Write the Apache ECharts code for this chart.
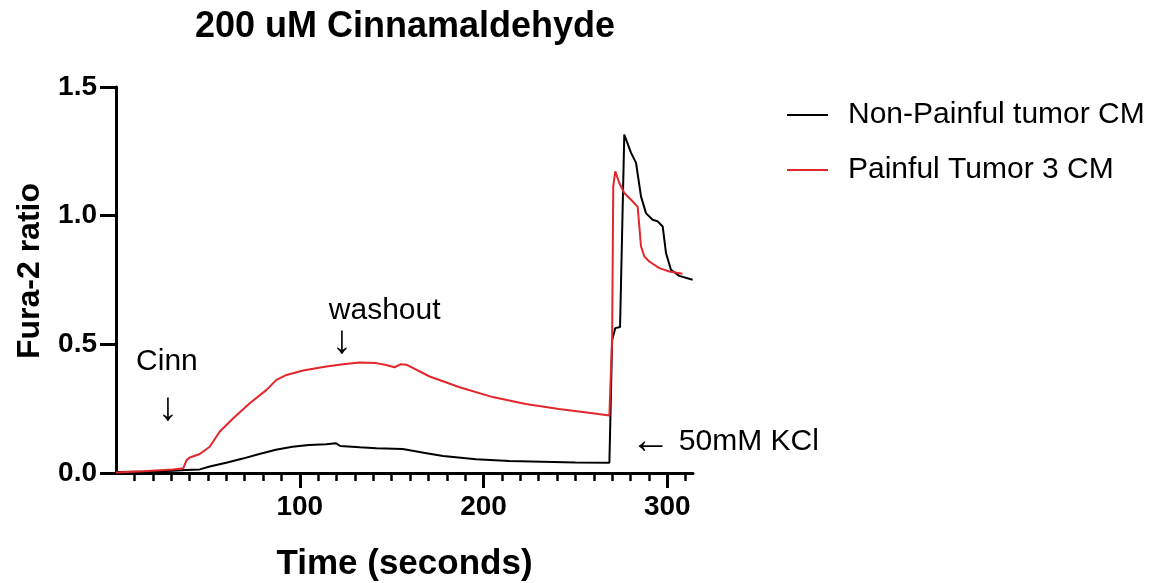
<!DOCTYPE html>
<html style="height: 100%">
<head>
  <meta charset="utf-8">
  <title>200 uM Cinnamaldehyde</title>
</head>
<body style="height: 100%; margin: 0; background: #fff">
<div id="container" style="width: 1155px; height: 583px;"></div>
<script type="text/javascript" src="https://cdn.jsdelivr.net/npm/echarts@6/dist/echarts.min.js"></script>
<script type="text/javascript">
  // values
  var blackName = 'Non-Painful tumor CM';
  var blackT = [0, 20, 31, 38, 45.6, 51, 60, 69, 78, 87, 96, 105, 114.5, 119.6, 122, 132.6, 141.7, 156, 169, 178, 196, 214, 232, 250, 268.5, 269.4, 270.0, 271.7, 274.3, 276.6, 280.3, 283, 285.7, 288.4, 292, 294.7, 297.5, 299.3, 302, 306.5, 313.8];
  var blackV = [0.004, 0.006, 0.009, 0.012, 0.014, 0.025, 0.04, 0.056, 0.074, 0.09, 0.102, 0.109, 0.112, 0.116, 0.105, 0.10, 0.096, 0.093, 0.077, 0.066, 0.053, 0.047, 0.044, 0.041, 0.04, 0.044, 0.517, 0.563, 0.567, 1.315, 1.244, 1.205, 1.075, 1.01, 0.984, 0.978, 0.958, 0.855, 0.79, 0.766, 0.751];

  var redName = 'Painful Tumor 3 CM';
  var redT = [0, 14.8, 31, 36.6, 38.4, 40.2, 45.6, 51, 56.5, 63.8, 72.8, 81.9, 87.3, 92.8, 101.8, 114.5, 123.5, 132.6, 141.7, 147, 151.6, 155, 158, 170.7, 187, 205, 223, 241, 259.4, 268.5, 269.4, 270, 270.6, 271.7, 273.9, 276.6, 280.3, 283.9, 285.7, 287.5, 290.2, 295.7, 301.1, 308.3];
  var redV = [0.002, 0.007, 0.014, 0.018, 0.05, 0.06, 0.074, 0.102, 0.161, 0.213, 0.271, 0.323, 0.362, 0.381, 0.398, 0.414, 0.423, 0.429, 0.427, 0.42, 0.411, 0.423, 0.421, 0.375, 0.333, 0.295, 0.268, 0.249, 0.232, 0.223, 0.222, 0.53, 1.114, 1.172, 1.127, 1.088, 1.062, 1.034, 0.881, 0.842, 0.822, 0.796, 0.783, 0.774];

  var xMajorTicks = [100, 200, 300];
  var xMinorTicks = [10, 20, 30, 40, 50, 60, 70, 80, 90, 110, 120, 130, 140, 150, 160, 170, 180, 190,
                     210, 220, 230, 240, 250, 260, 270, 280, 290, 310];

  // text notes, placed in data coordinates ({a|..} = arrow glyph)
  var notes = [
    { text: 'Cinn', t: 27.7, v: 0.432, align: 'center' },
    { text: '{a|↓}', t: 28.3, v: 0.25, align: 'center' },
    { text: 'washout', t: 146.2, v: 0.63, align: 'center' },
    { text: '{a|↓}', t: 123, v: 0.51, align: 'center' },
    { text: '{a|←} 50mM KCl', t: 280, v: 0.12, align: 'left' }
  ];

  function pairs(ts, vs) {
    var out = [];
    for (var i = 0; i < ts.length; i++) out.push([ts[i], vs[i]]);
    return out;
  }

  var font = 'Liberation Sans, Arial, Helvetica, sans-serif';

  var dom = document.getElementById('container');
  var myChart = echarts.init(dom, null, { renderer: 'canvas' });

  var option = {
    animation: false,
    title: {
      text: '200 uM Cinnamaldehyde',
      left: 400,
      top: 4,
      textAlign: 'center',
      textStyle: { fontFamily: font, fontSize: 36, fontWeight: 'bold', color: '#000' }
    },
    legend: {
      orient: 'vertical',
      left: 782,
      top: 95,
      itemWidth: 41,
      itemHeight: 2,
      itemGap: 25,
      icon: 'path://M0,0H41V2H0Z',
      data: [blackName, redName],
      textStyle: { fontFamily: font, fontSize: 30, color: '#000', lineHeight: 30, padding: [0, 0, 0, 15] }
    },
    grid: { left: 116, top: 87, width: 577, bottom: 110, containLabel: false, outerBoundsMode: 'none' },
    xAxis: [
      {
        type: 'value',
        min: 0,
        max: 314,
        interval: 100,
        name: 'Time (seconds)',
        nameLocation: 'middle',
        nameGap: 74,
        nameTextStyle: { fontFamily: font, fontSize: 35, fontWeight: 'bold', color: '#000' },
        splitLine: { show: false },
        axisLine: { show: true, onZero: false, lineStyle: { color: '#000', width: 3 } },
        axisTick: { show: true, customValues: xMinorTicks, length: 8, lineStyle: { color: '#000', width: 2.5 } },
        axisLabel: {
          customValues: xMajorTicks,
          margin: 20,
          fontFamily: font, fontSize: 28, fontWeight: 'bold', color: '#000'
        }
      },
      {
        type: 'value',
        min: 0,
        max: 314,
        position: 'bottom',
        splitLine: { show: false },
        axisLine: { show: false, onZero: false },
        axisTick: { show: true, customValues: xMajorTicks, length: 15, lineStyle: { color: '#000', width: 3 } },
        axisLabel: { show: false }
      }
    ],
    yAxis: {
      type: 'value',
      min: 0,
      max: 1.5,
      interval: 0.5,
      name: 'Fura-2 ratio',
      nameLocation: 'middle',
      nameGap: 70,
      nameTextStyle: { fontFamily: font, fontSize: 32, fontWeight: 'bold', color: '#000', padding: [0, 0, 0, 18] },
      splitLine: { show: false },
      axisLine: { show: true, lineStyle: { color: '#000', width: 3 } },
      axisTick: { show: true, length: 16, lineStyle: { color: '#000', width: 3 } },
      axisLabel: {
        margin: 19,
        fontFamily: font, fontSize: 28, fontWeight: 'bold', color: '#000',
        formatter: function (v) { return v.toFixed(1); }
      }
    },
    series: [
      {
        name: blackName,
        type: 'line',
        symbol: 'none',
        data: pairs(blackT, blackV),
        lineStyle: { color: '#000', width: 2 },
        itemStyle: { color: '#000' },
        markPoint: {
          symbol: 'circle',
          symbolSize: 0,
          silent: true,
          data: notes.map(function (n) {
            return {
              coord: [n.t, n.v],
              label: {
                show: true,
                formatter: n.text,
                position: n.align === 'left' ? 'right' : 'inside',
                distance: 0,
                fontFamily: font,
                fontSize: 30,
                color: '#000',
                rich: {
                  a: { fontFamily: font, fontSize: 40, color: '#000' }
                }
              }
            };
          })
        }
      },
      {
        name: redName,
        type: 'line',
        symbol: 'none',
        data: pairs(redT, redV),
        lineStyle: { color: '#e3262b', width: 2 },
        itemStyle: { color: '#e3262b' }
      }
    ]
  };

  myChart.setOption(option, true);
</script>
</body>
</html>
